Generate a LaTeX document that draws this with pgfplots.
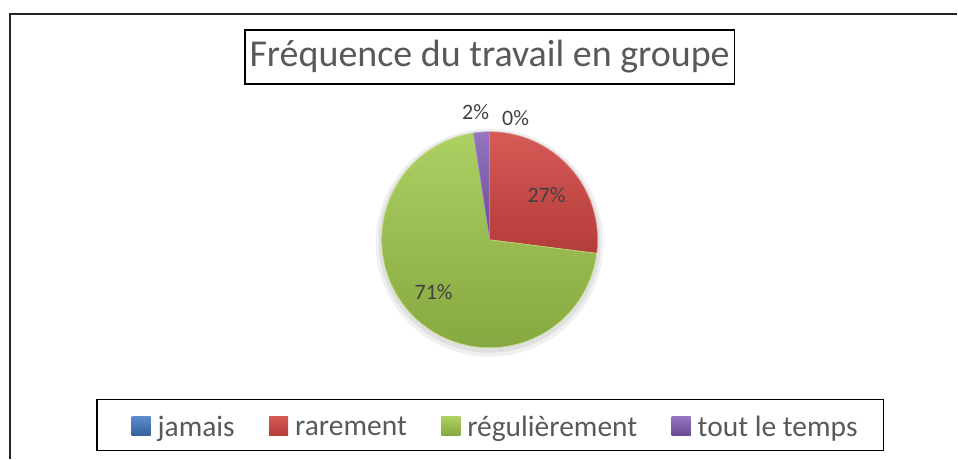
\documentclass[border=0pt]{standalone}
\usepackage{pgfplots}
\pgfplotsset{compat=1.18}
\usepackage{pgfplotstable}
\usepackage{fontspec}
\setmainfont{Carlito}
\definecolor{txt}{HTML}{595959}
\definecolor{lbl}{HTML}{404040}
\pgfplotstableread{
v
0
27
70.6
2.4
}\piedata
\pgfplotsset{pie legend/.style={legend image code/.code={\path[##1, line width=0pt, draw=none] (0bp,-9bp) rectangle (19bp,10bp);}}}
\begin{document}%
\begin{tikzpicture}
\pgfplotstablegetelem{0}{v}\of\piedata \let\vA\pgfplotsretval
\pgfplotstablegetelem{1}{v}\of\piedata \let\vB\pgfplotsretval
\pgfplotstablegetelem{2}{v}\of\piedata \let\vC\pgfplotsretval
\pgfplotstablegetelem{3}{v}\of\piedata \let\vD\pgfplotsretval
\pgfmathsetmacro{\aB}{90-3.6*\vA}
\pgfmathsetmacro{\aC}{\aB-3.6*\vB}
\pgfmathsetmacro{\aD}{\aC-3.6*\vC}
\pgfmathsetmacro{\aE}{\aD-3.6*\vD}
\begin{axis}[
  x=1bp, y=1bp,
  xmin=0, xmax=958, ymin=0, ymax=459, y dir=reverse,
  hide axis, clip=false,
  legend columns=4,
  legend style={at={(axis cs:496,427)}, anchor=center, draw=none, fill=none,
    text=txt, font=\fontsize{29.5bp}{34bp}\selectfont, inner xsep=0bp, inner ysep=0bp,
    /tikz/every odd column/.append style={column sep=5bp},
    /tikz/every even column/.append style={column sep=32.5bp}},
]
% whole chart area as the picture's extent
\path (axis cs:0,0) rectangle (axis cs:958,459);
% frame of chart area
\draw[line width=1.6bp, black!85] (axis cs:10,459) -- (axis cs:10,14) -- (axis cs:958,14);
% soft shadow round the pie
\fill[black!6] (axis cs:490,243) circle[radius=114bp];
\fill[black!12] (axis cs:490,242) circle[radius=111bp];
% legend-only entry for the 0% slice
\addlegendimage{pie legend, top color={rgb,255:red,92;green,140;blue,205}, bottom color={rgb,255:red,52;green,96;blue,156}, draw=none}
\addlegendentry{jamais}
\addplot[pie legend, top color={rgb,255:red,214;green,90;blue,86}, bottom color={rgb,255:red,180;green,60;blue,58}, draw={rgb,255:red,222;green,122;blue,118}, line width=0.6bp,
  domain=\aC:\aB, samples=80, variable=\t] ({490+108*cos(t)},{240-108*sin(t)}) -- (axis cs:490,240) -- cycle;
\addlegendentry{rarement}
\addplot[pie legend, top color={rgb,255:red,172;green,208;blue,98}, bottom color={rgb,255:red,134;green,168;blue,64}, draw={rgb,255:red,192;green,224;blue,122}, line width=0.6bp,
  domain=\aD:\aC, samples=160, variable=\t] ({490+108*cos(t)},{240-108*sin(t)}) -- (axis cs:490,240) -- cycle;
\addlegendentry{régulièrement}
\addplot[pie legend, top color={rgb,255:red,150;green,116;blue,192}, bottom color={rgb,255:red,104;green,76;blue,146}, draw={rgb,255:red,172;green,142;blue,208}, line width=0.6bp,
  domain=\aE:\aD, samples=20, variable=\t] ({490+108*cos(t)},{240-108*sin(t)}) -- (axis cs:490,240) -- cycle;
\addlegendentry{tout le temps}
% data labels
\addplot[forget plot, only marks, mark=none, nodes near coords, point meta=explicit symbolic,
  nodes near coords style={anchor=center, text=lbl, font=\fontsize{22bp}{26bp}\selectfont}]
  coordinates {(547,195.5)[27\%] (434,292)[71\%] (516,118.5)[0\%] (476,112)[2\%]};
\node[draw=black, line width=1.5bp, minimum width=490bp, minimum height=54bp, inner sep=0pt,
  text=txt, font=\fontsize{38bp}{45bp}\selectfont] at (axis cs:490,57) {Fréquence du travail en groupe};
\draw[line width=1.5bp] (axis cs:97,400) rectangle (axis cs:884,451);
\end{axis}
\end{tikzpicture}%
\end{document}
